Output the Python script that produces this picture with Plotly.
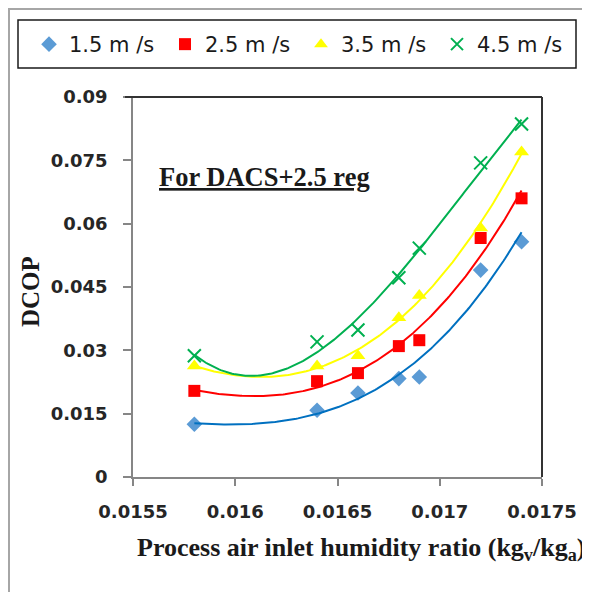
import numpy as np
import plotly.graph_objects as go

# ---- data ----
x_vals = [0.0158, 0.0164, 0.0166, 0.0168, 0.0169, 0.0172, 0.0174]
dcop_15 = [0.0125, 0.0158, 0.0199, 0.0233, 0.0237, 0.0490, 0.0557]
dcop_25 = [0.0204, 0.0227, 0.0246, 0.0310, 0.0324, 0.0566, 0.0660]
dcop_35 = [0.0263, 0.0263, 0.0287, 0.0377, 0.0430, 0.0590, 0.0770]
dcop_45 = [0.0287, 0.0320, 0.0348, 0.0472, 0.0542, 0.0744, 0.0836]
series_names = ["1.5 m /s", "2.5 m /s", "3.5 m /s", "4.5 m /s"]
x_tickvals = [0.0155, 0.016, 0.0165, 0.017, 0.0175]
x_ticktext = ["0.0155", "0.016", "0.0165", "0.017", "0.0175"]
y_tickvals = [0, 0.015, 0.03, 0.045, 0.06, 0.075, 0.09]
y_ticktext = ["0", "0.015", "0.03", "0.045", "0.06", "0.075", "0.09"]

series = [dcop_15, dcop_25, dcop_35, dcop_45]
marker_colors = ["#5B9BD5", "#FF0000", "#FFFF00", "#00B050"]
line_colors = ["#0070C0", "#FF0000", "#FFFF00", "#00B050"]
symbols = ["diamond", "square", "triangle-up", "x-thin-open"]
sizes = [12, 12, 13, 13]

fig = go.Figure()

xs = np.array(x_vals)
xfit = np.linspace(min(x_vals), max(x_vals), 200)
for i, ys in enumerate(series):
    mk = dict(symbol=symbols[i], size=sizes[i], color=marker_colors[i])
    if symbols[i] == "x-thin-open":
        mk["line"] = dict(color=marker_colors[i], width=2)
    else:
        mk["line"] = dict(width=0)
    fig.add_trace(go.Scatter(x=x_vals, y=ys, mode="markers", name=series_names[i],
                             marker=mk, showlegend=True))
for i, ys in enumerate(series):
    coef = np.polyfit(xs, np.array(ys), 3)
    fig.add_trace(go.Scatter(x=xfit, y=np.polyval(coef, xfit), mode="lines",
                             line=dict(color=line_colors[i], width=2),
                             showlegend=False, hoverinfo="skip"))

# page has an 8px body margin: lay out in page coordinates minus that offset
OFF = 8
W, H = 590 - OFF, 592 - OFF
PL, PR = 133 - OFF, 542 - OFF          # plot-area left/right in figure px
T = 97 - OFF
B = H - (477 - OFF)
L, R = 10, 0                            # wide margin box so legend fits on one row
pw, ph = W - L - R, H - T - B
dom = [(PL - L) / pw, (PR - L) / pw]

def px(xp):
    return (xp - OFF - L) / pw

def py(yp):
    return (H - B - (yp - OFF)) / ph

fig.update_layout(
    width=W, height=H,
    margin=dict(l=L, r=R, t=T, b=B, autoexpand=False),
    paper_bgcolor="white", plot_bgcolor="white",
    legend=dict(orientation="h", x=px(29), y=py(24), xanchor="left", yanchor="top",
                bgcolor="rgba(0,0,0,0)", borderwidth=0,
                entrywidth=91, entrywidthmode="pixels",
                font=dict(family="DejaVu Sans", size=21, color="#1a1a1a"),
                itemsizing="constant"),
    xaxis=dict(domain=dom, range=[0.0155, 0.0175], tickvals=x_tickvals, ticktext=x_ticktext,
               automargin=False,
               showgrid=False, zeroline=False, showline=True, linecolor="#868686", linewidth=1.5,
               ticks="outside", ticklen=7, tickcolor="#868686", tickwidth=1.5,
               ticklabelstandoff=11,
               tickfont=dict(family="DejaVu Sans", size=18, color="#262626", weight="bold")),
    yaxis=dict(range=[0, 0.09], tickvals=y_tickvals, ticktext=y_ticktext, automargin=False,
               showgrid=False, zeroline=False, showline=True, linecolor="#868686", linewidth=1.5,
               ticks="outside", ticklen=8, tickcolor="#868686", tickwidth=1.5,
               ticklabelstandoff=12,
               tickfont=dict(family="DejaVu Sans", size=18, color="#262626", weight="bold")),
    shapes=[
        dict(type="rect", xref="paper", yref="paper", x0=(1 - L) / pw, x1=px(620),
             y0=py(640), y1=(H - B - 1) / ph,
             line=dict(color="#A6A6A6", width=2), layer="below"),
        dict(type="rect", xref="paper", yref="paper", x0=px(18), x1=px(576),
             y0=py(68), y1=py(20), line=dict(color="#1a1a1a", width=1.5)),
        dict(type="line", xref="paper", yref="paper", x0=px(125), x1=dom[1], y0=1, y1=1,
             line=dict(color="#333333", width=2)),
        dict(type="line", xref="paper", yref="paper", x0=dom[1], x1=dom[1], y0=0, y1=1,
             line=dict(color="#333333", width=2)),
    ],
    annotations=[
        dict(text="<b><u>For DACS+2.5 reg</u></b>", xref="paper", yref="paper",
             x=px(157), y=py(177), xanchor="left", yanchor="middle", showarrow=False,
             font=dict(family="Liberation Serif", size=26.5, color="#1a1a1a")),
        dict(text="<b>DCOP</b>", xref="paper", yref="paper", x=px(30), y=py(292),
             xanchor="center", yanchor="middle", textangle=-90, showarrow=False,
             font=dict(family="Liberation Serif", size=25, color="#1a1a1a")),
        dict(text="<b>Process air inlet humidity ratio (kg<sub>v</sub>/kg<sub>a</sub>)</b>",
             xref="paper", yref="paper", x=px(361), y=py(549), xanchor="center", yanchor="middle",
             showarrow=False, font=dict(family="Liberation Serif", size=26, color="#1a1a1a")),
    ],
)

fig.write_html("out.html")
